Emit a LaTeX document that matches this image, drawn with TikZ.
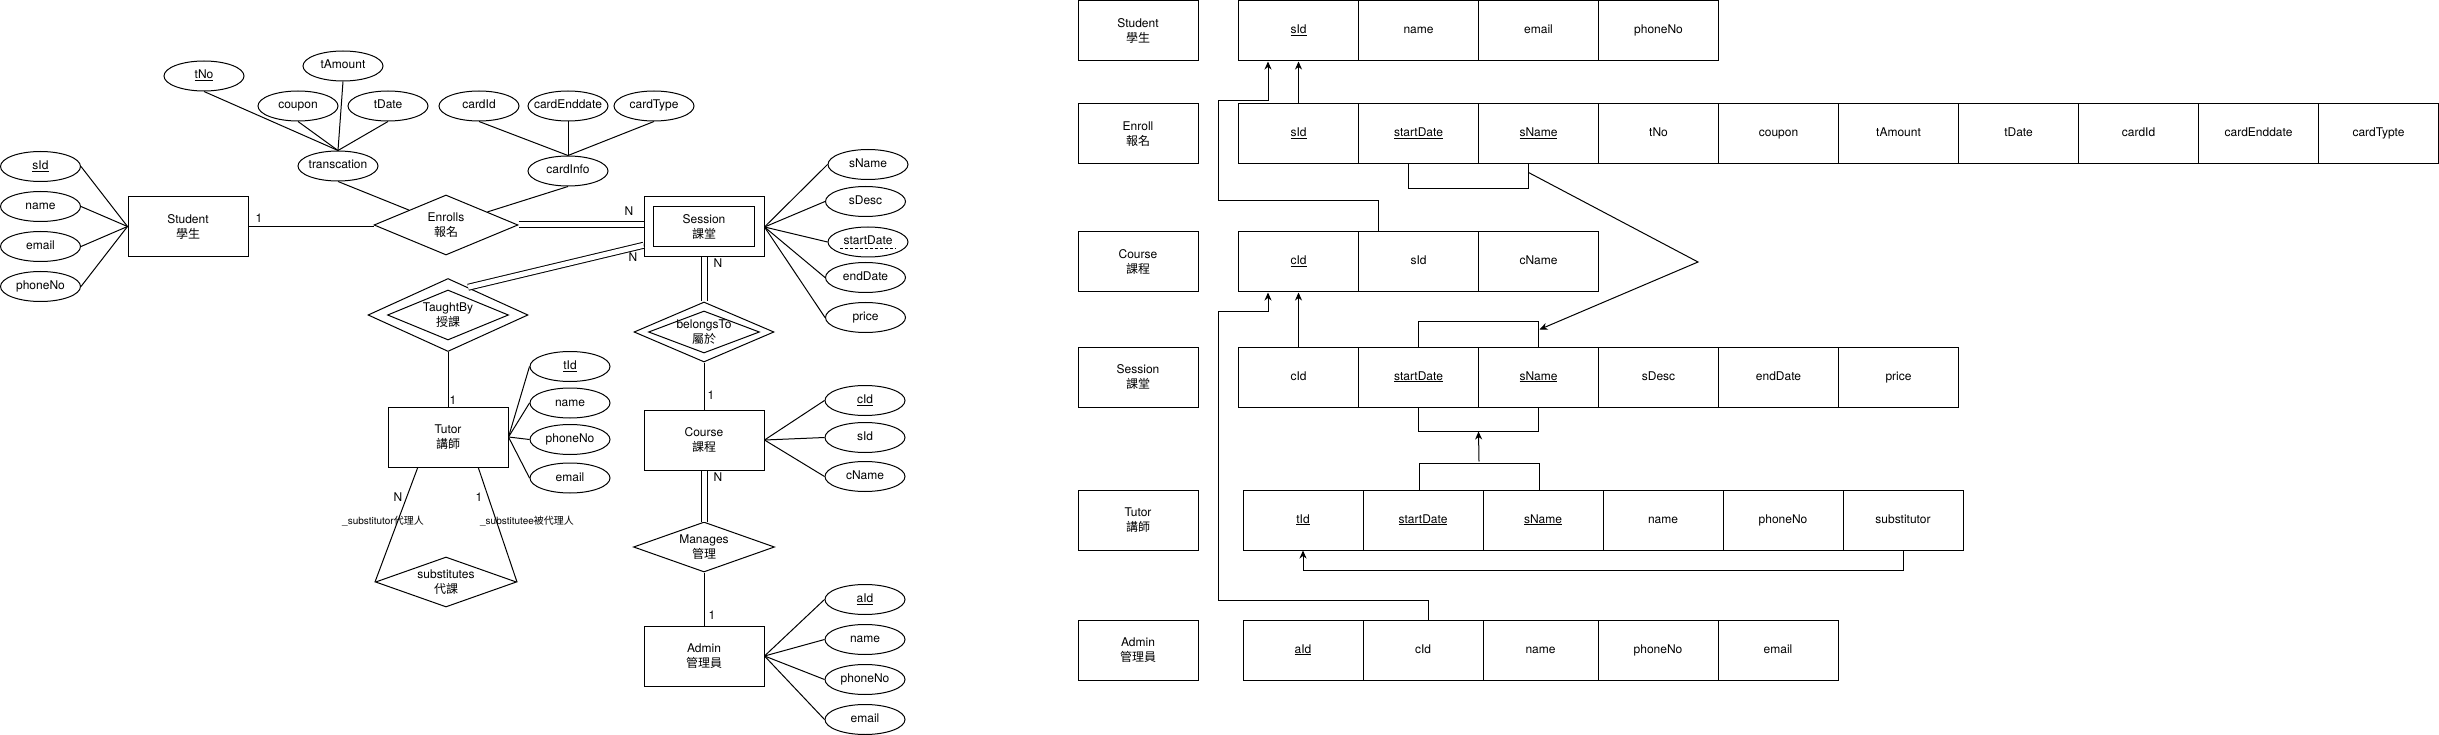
\documentclass[tikz,border=0pt]{standalone}
\usepackage{fontspec}
\setmainfont{TeX Gyre Heros}
\newfontfamily\cjk{Noto Sans CJK TC}
\usetikzlibrary{shapes.geometric, arrows.meta, calc}
\newcommand\zh[1]{{\cjk #1}}
\newcommand\mbz[1]{\makebox[0pt]{#1}}
\begin{document}
\begin{tikzpicture}[x=1pt, y=-1pt, line width=1pt,
  every node/.style={font=\fontsize{12}{15}\selectfont},
  entbox/.style={draw, rectangle, minimum width=120pt, minimum height=60pt, inner sep=0pt, align=center},
  attrell/.style={draw, ellipse, minimum width=80pt, minimum height=30pt, inner sep=0pt, text height=8.5pt, text depth=2.5pt},
  relshape/.style={draw, diamond, inner sep=0pt, align=center},
  innerdia/.style={draw, diamond, inner sep=0pt},
  cardlbl/.style={inner sep=0pt, text height=8.5pt, text depth=0pt},
  rolelbl/.style={inner sep=0pt, font=\fontsize{10}{12}\selectfont},
  tcell/.style={draw, rectangle, minimum width=120pt, minimum height=60pt, inner sep=0pt, text height=8.5pt, text depth=2.5pt},
  dbl/.style={double, double distance=5pt},
  arr/.style={-{Stealth[length=8pt,width=7pt,inset=2.5pt]}}
]
\useasboundingbox (0,0) rectangle (2439,735);
\fill[white] (0,0) rectangle (2439,735);

% ================= ER diagram =================
% transaction attributes
\node[attrell] (tno) at (204,76) {\mbz{\underline{tNo}}};
\node[attrell] (tamt) at (343,66) {\mbz{tAmount}};
\node[attrell] (coup) at (298,106) {\mbz{coupon}};
\node[attrell] (tdate) at (388,106) {\mbz{tDate}};
\node[attrell] (trans) at (338,166) {\mbz{transcation}};
\draw (tno.south) -- (trans.north);
\draw (coup.south) -- (trans.north);
\draw (tamt.south) -- (trans.north);
\draw (tdate.south) -- (trans.north);
% card attributes
\node[attrell] (cardid) at (479,106) {\mbz{cardId}};
\node[attrell] (cardend) at (568,106) {\mbz{cardEnddate}};
\node[attrell] (cardtype) at (654,106) {\mbz{cardType}};
\node[attrell] (cardinfo) at (568,171) {\mbz{cardInfo}};
\draw (cardid.south) -- (cardinfo.north);
\draw (cardend.south) -- (cardinfo.north);
\draw (cardtype.south) -- (cardinfo.north);

% Student
\node[entbox] (stu) at (188,226.5) {Student\\\zh{學生}};
\node[attrell] (ssid) at (40.5,166.5) {\mbz{\underline{sId}}};
\node[attrell] (sname) at (40.5,206.5) {\mbz{name}};
\node[attrell] (semail) at (40.5,246.5) {\mbz{email}};
\node[attrell] (sphone) at (40.5,286.5) {\mbz{phoneNo}};
\foreach \a in {ssid,sname,semail,sphone} \draw (\a.east) -- (stu.west);

% Enrolls
\node[relshape, minimum width=144pt, minimum height=60pt, aspect=2.4] (enr) at (446,225) {Enrolls\\\zh{報名}};
\draw (stu.east) -- (stu.east -| enr.west);
\draw (trans.south) -- (enr);
\draw (cardinfo.south) -- (enr);

% Session (weak entity)
\node[entbox] (sess) at (704,227) {};
\node[draw, rectangle, minimum width=101pt, minimum height=40pt, inner sep=0pt, align=center] (sessin) at (704,227) {Session\\\zh{課堂}};
\draw[dbl] (enr.east) -- (enr.east -| sess.west);
\node[attrell] (sesname) at (868,164.5) {\mbz{sName}};
\node[attrell] (sesdesc) at (865.5,201.5) {\mbz{sDesc}};
\node[attrell] (sesstart) at (868,242) {\mbz{startDate}};
\node[attrell] (sesend) at (865.5,277.5) {\mbz{endDate}};
\node[attrell] (sesprice) at (865.5,317.5) {\mbz{price}};
\foreach \a in {sesname,sesdesc,sesstart,sesend,sesprice} \draw (sess.east) -- (\a.west);
\draw[dashed, dash pattern=on 3pt off 2pt] ($(sesstart.center)+(-28,6.5)$) -- ($(sesstart.center)+(28,6.5)$);

% TaughtBy
\node[relshape, minimum width=160pt, minimum height=73pt, aspect=2.2] (tb) at (448,315) {TaughtBy\\\zh{授課}};
\node[innerdia, minimum width=121pt, minimum height=50pt] (tbin) at (448,315) {};
\draw[dbl] ($(tb.north)!0.5!(tb.north east)$) -- ($(sess.west)!0.6!(sess.south west)$);

% belongsTo
\node[relshape, minimum width=140pt, minimum height=60pt, aspect=2.33] (bt) at (704,332) {belongsTo\\\zh{屬於}};
\node[innerdia, minimum width=111pt, minimum height=42pt] (btin) at (704,332) {};
\draw[dbl] (sess.south) -- (bt.north);

% Tutor
\node[entbox] (tut) at (448,437) {Tutor\\\zh{講師}};
\draw (tb.south) -- (tut.north);
\node[attrell] (ttid) at (570,366.5) {\mbz{\underline{tId}}};
\node[attrell] (tname) at (570,403) {\mbz{name}};
\node[attrell] (tphone) at (570,439.5) {\mbz{phoneNo}};
\node[attrell] (temail) at (570,478) {\mbz{email}};
\foreach \a in {ttid,tname,tphone,temail} \draw (tut.east) -- (\a.west);

% Course
\node[entbox] (crs) at (704,440) {Course\\\zh{課程}};
\draw (bt.south) -- (crs.north);
\node[attrell] (ccid) at (865,400.5) {\mbz{\underline{cId}}};
\node[attrell] (csid) at (865,437.5) {\mbz{sId}};
\node[attrell] (ccname) at (865,476.5) {\mbz{cName}};
\foreach \a in {ccid,csid,ccname} \draw (crs.east) -- (\a.west);

% Manages
\node[relshape, minimum width=141pt, minimum height=50pt, aspect=2.8] (mng) at (704,547) {Manages\\\zh{管理}};
\draw[dbl] (crs.south) -- (mng.north);

% Admin
\node[entbox] (adm) at (704,656) {Admin\\\zh{管理員}};
\draw (mng.south) -- (adm.north);
\node[attrell] (aaid) at (865,599.5) {\mbz{\underline{aId}}};
\node[attrell] (aname) at (865,639.5) {\mbz{name}};
\node[attrell] (aphone) at (865,679.5) {\mbz{phoneNo}};
\node[attrell] (aemail) at (865,719.5) {\mbz{email}};
\foreach \a in {aaid,aname,aphone,aemail} \draw (adm.east) -- (\a.west);

% substitutes
\node[relshape, minimum width=141pt, minimum height=50pt, aspect=2.8] (sub) at (446,582) {substitutes\\\zh{代課}};
\draw ($(tut.south west)!0.25!(tut.south east)$) -- (sub.west);
\draw ($(tut.south west)!0.75!(tut.south east)$) -- (sub.east);

% cardinalities and roles
\node[cardlbl] (k1) at (259,218) {1};
\node[cardlbl] (k2) at (629,211) {N};
\node[cardlbl] (k3) at (633,257) {N};
\node[cardlbl] (k4) at (718,263) {N};
\node[cardlbl] (k5) at (453,400) {1};
\node[cardlbl] (k6) at (711,395) {1};
\node[cardlbl] (k7) at (718,477) {N};
\node[cardlbl] (k8) at (712,615) {1};
\node[cardlbl] (k9) at (398,497) {N};
\node[cardlbl] (k10) at (479,497) {1};
\node[rolelbl] (role1) at (383,521) {\_substitutor\zh{代理人}};
\node[rolelbl] (role2) at (527,521) {\_substitutee\zh{被代理人}};

% ================= Relational schema =================
% row labels
\node[entbox] (lStu) at (1138,31) {Student\\\zh{學生}};
\node[entbox] (lEnr) at (1138,134) {Enroll\\\zh{報名}};
\node[entbox] (lCrs) at (1138,262) {Course\\\zh{課程}};
\node[entbox] (lSes) at (1138,377) {Session\\\zh{課堂}};
\node[entbox] (lTut) at (1138,520) {Tutor\\\zh{講師}};
\node[entbox] (lAdm) at (1138,650) {Admin\\\zh{管理員}};

% Student table
\node[tcell] (s1) at (1298.5,31) {\underline{sId}};
\node[tcell] (s2) at (1418.5,31) {name};
\node[tcell] (s3) at (1538.5,31) {email};
\node[tcell] (s4) at (1658.5,31) {phoneNo};

% Enroll table
\node[tcell] (e1) at (1298.5,134) {\underline{sId}};
\node[tcell] (e2) at (1418.5,134) {\underline{startDate}};
\node[tcell] (e3) at (1538.5,134) {\underline{sName}};
\node[tcell] (e4) at (1658.5,134) {tNo};
\node[tcell] (e5) at (1778.5,134) {coupon};
\node[tcell] (e6) at (1898.5,134) {tAmount};
\node[tcell] (e7) at (2018.5,134) {tDate};
\node[tcell] (e8) at (2138.5,134) {cardId};
\node[tcell] (e9) at (2258.5,134) {cardEnddate};
\node[tcell] (e10) at (2378.5,134) {cardTypte};

% Course table
\node[tcell] (c1) at (1298.5,262) {\underline{cId}};
\node[tcell] (c2) at (1418.5,262) {sId};
\node[tcell] (c3) at (1538.5,262) {cName};

% Session table
\node[tcell] (se1) at (1298.5,377) {cId};
\node[tcell] (se2) at (1418.5,377) {\underline{startDate}};
\node[tcell] (se3) at (1538.5,377) {\underline{sName}};
\node[tcell] (se4) at (1658.5,377) {sDesc};
\node[tcell] (se5) at (1778.5,377) {endDate};
\node[tcell] (se6) at (1898.5,377) {price};

% Tutor table
\node[tcell] (t1) at (1303,520) {\underline{tId}};
\node[tcell] (t2) at (1423,520) {\underline{startDate}};
\node[tcell] (t3) at (1543,520) {\underline{sName}};
\node[tcell] (t4) at (1663,520) {name};
\node[tcell] (t5) at (1783,520) {phoneNo};
\node[tcell] (t6) at (1903,520) {substitutor};

% Admin table
\node[tcell] (a1) at (1303,650) {\underline{aId}};
\node[tcell] (a2) at (1423,650) {cId};
\node[tcell, minimum width=115pt] (a3) at (1540.5,650) {name};
\node[tcell] (a4) at (1658,650) {phoneNo};
\node[tcell] (a5) at (1778,650) {email};

% Foreign keys
\draw[arr] (e1.north) -- (s1.south);
\draw[arr] ($(c2.north west)+(20,0)$) -- ++(0,-31) -| (1218,101) -| ($(s1.south west)+(30,0)$);
\draw[arr] (se1.north) -- (c1.south);
\draw[arr] ($(a2.north)+(5,0)$) -- ++(0,-19) -| (1218,312) -| ($(c1.south west)+(30,0)$);

% Enroll (startDate,sName) -> Session (startDate,sName)
\coordinate (ebL) at ($(e2.south)+(-10,24)$);
\coordinate (ebR) at ($(e3.south)+(-10,24)$);
\draw ($(e2.south)+(-10,0)$) -- (ebL) -- (ebR) -- ($(e3.south)+(-10,0)$);
\coordinate (stL) at ($(se2.north)+(0,-25)$);
\coordinate (stR) at ($(se3.north)+(0,-25)$);
\draw (se2.north) -- (stL) -- (stR) -- (se3.north);
\draw[arr] ($(e3.south)+(-10,8)$) -- (1698,262) -- ($(se3.north)+(1,-17)$);

% Tutor (startDate,sName) -> Session (startDate,sName)
\coordinate (sbL) at ($(se2.south)+(0,24)$);
\coordinate (sbR) at ($(se3.south)+(0,24)$);
\draw (se2.south) -- (sbL) -- (sbR) -- (se3.south);
\coordinate (tbL) at ($(t2.north)+(-4,-26)$);
\coordinate (tbR) at ($(t3.north)+(-4,-26)$);
\draw ($(t2.north)+(-4,0)$) -- (tbL) -- (tbR) -- ($(t3.north)+(-4,0)$);
\coordinate (tbM) at ($(tbL)!0.5!(tbR)$);
\coordinate (sbM) at ($(sbL)!0.5!(sbR)$);
\draw[arr] ($(tbM)+(0,-2)$) -- (sbM);

% substitutor -> tId
\draw[arr] (t6.south) -- ++(0,20) -| (t1.south);
\end{tikzpicture}
\end{document}
